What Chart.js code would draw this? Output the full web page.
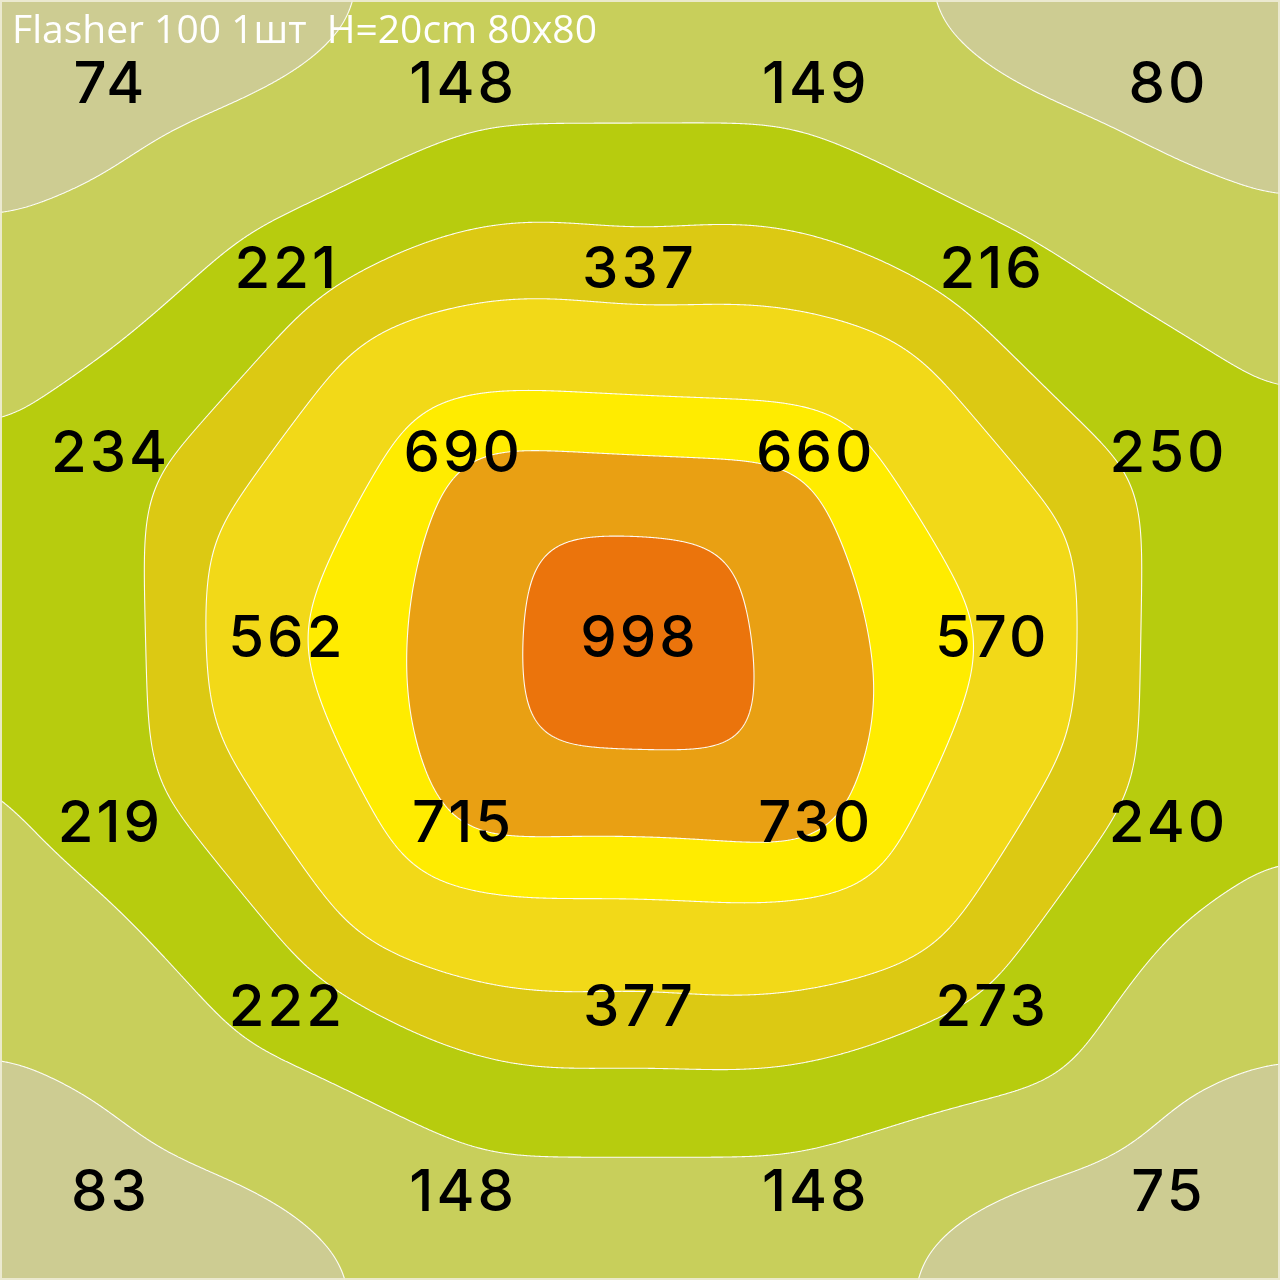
<!DOCTYPE html>
<html><head><meta charset="utf-8">
<script src="https://cdn.jsdelivr.net/npm/chart.js@4.4.1/dist/chart.umd.min.js"></script>
<style>html,body{margin:0;padding:0;background:#fff}#wrap{position:relative;width:1280px;height:1280px}</style>
</head><body><div id="wrap"><canvas id="c" width="1280" height="1280"></canvas></div>
<script>
// ---- data ----
const chartTitle = 'Flasher 100 1шт  H=20cm 80x80';
const gridRow   = [0,0,0,0, 1,1,1, 2,2,2,2, 3,3,3, 4,4,4,4, 5,5,5, 6,6,6,6];
const gridCol   = [0,2,4,6, 1,3,5, 0,2,4,6, 1,3,5, 0,2,4,6, 1,3,5, 0,2,4,6];
const luxValues = [74,148,149,80, 221,337,216, 234,690,660,250, 562,998,570, 219,715,730,240, 222,377,273, 83,148,148,75];
const levels    = [115,192,300,410,570,678,822];
const bandColors = ['#CDCC92','#C8CF5B','#B7CC0E','#DCC913','#F2D918','#FFEC00','#E9A013','#EB740C'];

function hexToRgb(h){ return [parseInt(h.slice(1,3),16),parseInt(h.slice(3,5),16),parseInt(h.slice(5,7),16)]; }

// field: bilinear on the staggered (diagonal) lattice, mild fall-off outside the measured square
function makeField(){
  const N=7, g=[]; for(let r=0;r<N;r++) g.push(new Array(N).fill(null));
  luxValues.forEach((v,i)=>{ g[gridRow[i]][gridCol[i]]=v; });
  const get=(pp,qq)=>{ const r=(pp-qq)/2, c=(pp+qq)/2; return (r>=0&&r<N&&c>=0&&c<N)? g[r][c] : null; };
  const decay=0.25;
  return function(r,c){
    const rc=Math.min(Math.max(r,0),6), cc=Math.min(Math.max(c,0),6);
    const dOut=Math.hypot(r-rc,c-cc);
    const p=cc+rc, q=cc-rc;
    const P=Math.min(Math.floor(p/2)*2,10), Q=Math.max(Math.min(Math.floor(q/2)*2,4),-6);
    const s=(p-P)/2, t=(q-Q)/2;
    let f00=get(P,Q), f10=get(P+2,Q), f01=get(P,Q+2), f11=get(P+2,Q+2);
    if(f00===null) f00=f10+f01-f11;
    else if(f11===null) f11=f10+f01-f00;
    else if(f10===null) f10=f00+f11-f01;
    else if(f01===null) f01=f00+f11-f10;
    const f=f00*(1-s)*(1-t)+f10*s*(1-t)+f01*(1-s)*t+f11*s*t;
    return f*Math.exp(-decay*dOut);
  };
}

function boxBlur(F,W,H,rad,passes){
  const tmp=new Float32Array(W*H), n=2*rad+1;
  for(let p=0;p<passes;p++){
    for(let j=0;j<H;j++){
      const o=j*W; let sum=0;
      for(let k=-rad;k<=rad;k++) sum+=F[o+Math.min(Math.max(k,0),W-1)];
      for(let i=0;i<W;i++){
        tmp[o+i]=sum/n;
        sum+=F[o+Math.min(i+rad+1,W-1)]-F[o+Math.max(i-rad,0)];
      }
    }
    for(let i=0;i<W;i++){
      let sum=0;
      for(let k=-rad;k<=rad;k++) sum+=tmp[Math.min(Math.max(k,0),H-1)*W+i];
      for(let j=0;j<H;j++){
        F[j*W+i]=sum/n;
        sum+=tmp[Math.min(j+rad+1,H-1)*W+i]-tmp[Math.max(j-rad,0)*W+i];
      }
    }
  }
}

const contourPlugin = {
  id:'contour',
  beforeDatasetsDraw(chart){
    const {ctx, chartArea:ca, scales:{x:xs, y:ys}} = chart;
    const W=Math.round(ca.right-ca.left), H=Math.round(ca.bottom-ca.top);
    const field=makeField();
    const cs=new Float64Array(W), rs=new Float64Array(H);
    for(let i=0;i<W;i++) cs[i]=xs.getValueForPixel(ca.left+i+0.5);
    for(let j=0;j<H;j++) rs[j]=ys.getValueForPixel(ca.top+j+0.5);
    const F=new Float32Array(W*H);
    for(let j=0;j<H;j++) for(let i=0;i<W;i++) F[j*W+i]=field(rs[j],cs[i]);
    boxBlur(F,W,H,34,3);
    const rgb=bandColors.map(hexToRgb);
    const off=document.createElement('canvas'); off.width=W; off.height=H;
    const octx=off.getContext('2d'); const img=octx.createImageData(W,H); const d=img.data;
    for(let k=0;k<W*H;k++){
      const f=F[k]; let b=0; while(b<levels.length && f>=levels[b]) b++;
      const c=rgb[b]; d[4*k]=c[0]; d[4*k+1]=c[1]; d[4*k+2]=c[2]; d[4*k+3]=255;
    }
    octx.putImageData(img,0,0);
    ctx.save();
    ctx.drawImage(off,ca.left,ca.top);
    ctx.beginPath();
    for(const lv of levels){
      for(let j=0;j<H-1;j++){
        for(let i=0;i<W-1;i++){
          const a=F[j*W+i]-lv, bb=F[j*W+i+1]-lv, c=F[(j+1)*W+i+1]-lv, dd=F[(j+1)*W+i]-lv;
          const idx=(a>0?8:0)|(bb>0?4:0)|(c>0?2:0)|(dd>0?1:0);
          if(idx===0||idx===15) continue;
          const x0=ca.left+i+0.5, y0=ca.top+j+0.5;
          const top=[x0+a/(a-bb),y0], right=[x0+1,y0+bb/(bb-c)], bottom=[x0+dd/(dd-c),y0+1], left=[x0,y0+a/(a-dd)];
          const seg=(p,q)=>{ctx.moveTo(p[0],p[1]);ctx.lineTo(q[0],q[1]);};
          switch(idx){
            case 1: case 14: seg(left,bottom); break;
            case 2: case 13: seg(bottom,right); break;
            case 3: case 12: seg(left,right); break;
            case 4: case 11: seg(top,right); break;
            case 6: case 9: seg(top,bottom); break;
            case 7: case 8: seg(left,top); break;
            case 5: seg(left,top); seg(bottom,right); break;
            case 10: seg(top,right); seg(left,bottom); break;
          }
        }
      }
    }
    ctx.strokeStyle='rgba(255,255,255,0.95)'; ctx.lineWidth=1.1; ctx.stroke();
    // thin light frame round the plot
    ctx.strokeStyle='rgba(238,236,215,0.9)'; ctx.lineWidth=2;
    ctx.strokeRect(ca.left+1, ca.top+1, W-2, H-2);
    ctx.restore();
  },
  afterDatasetsDraw(chart){
    const {ctx, scales:{x:xs, y:ys}} = chart;
    ctx.save();
    ctx.fillStyle='#000'; ctx.textAlign='center'; ctx.textBaseline='alphabetic';
    ctx.font='500 58px Inter';
    try{ ctx.letterSpacing='3px'; }catch(e){}
    luxValues.forEach((v,i)=>{
      const px=xs.getPixelForValue(gridCol[i]), py=ys.getPixelForValue(gridRow[i]);
      ctx.fillText(String(v), px+1.5, py+21);
    });
    try{ ctx.letterSpacing='0px'; }catch(e){}
    ctx.fillStyle='#fff'; ctx.textAlign='left'; ctx.font='39px "Open Sans"';
    ctx.fillText(chartTitle, 12, 43);
    ctx.restore();
  }
};

new Chart(document.getElementById('c'), {
  type:'scatter',
  data:{datasets:[{data: luxValues.map((v,i)=>({x:gridCol[i], y:gridRow[i]})), pointRadius:0, pointHoverRadius:0}]},
  options:{
    responsive:false, animation:false, devicePixelRatio:1,
    layout:{padding:0},
    events:[],
    scales:{
      x:{type:'linear', min:-0.618, max:6.641, display:false},
      y:{type:'linear', min:-0.444, max:6.487, reverse:true, display:false}
    },
    plugins:{legend:{display:false}, tooltip:{enabled:false}, title:{display:false}}
  },
  plugins:[contourPlugin]
});
</script></body></html>
